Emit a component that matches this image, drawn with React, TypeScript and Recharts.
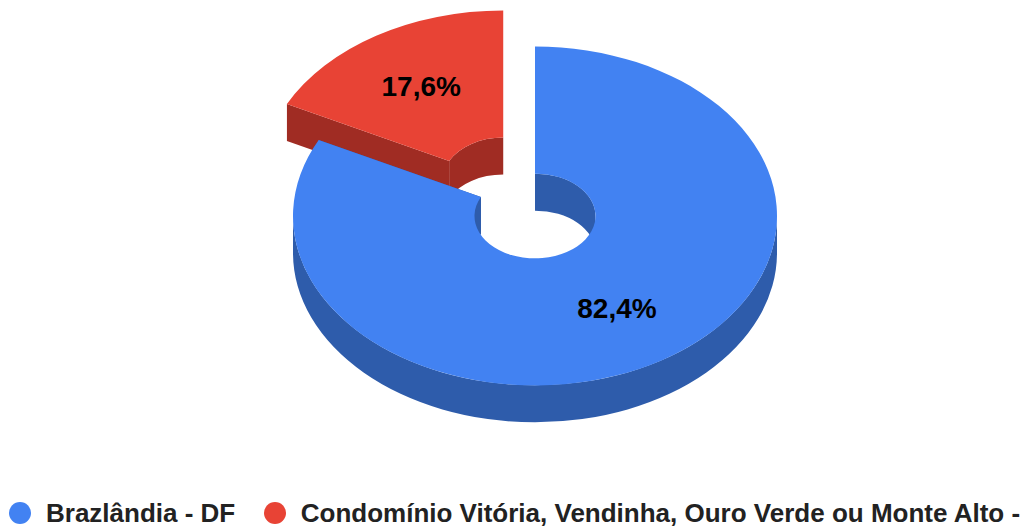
import { Legend, Pie, PieChart } from 'recharts';

const categories = ['Brazlândia - DF', 'Condomínio Vitória, Vendinha, Ouro Verde ou Monte Alto -'];
const values = [82.4, 17.6];
const topColors = ['#4282f2', '#e84335'];
const wallColors = ['#2e5cab', '#a02c23'];

// red is painted first so the blue slab overlaps it, same as the original
const pieData = [1, 0].map((i) => ({
    name: categories[i],
    value: values[i],
    fill: topColors[i],
    wall: wallColors[i],
}));

const WIDTH = 1028;
const HEIGHT = 526;
const SQUASH = 0.7;
const DEPTH = 37;
const EXPLODE = 0.25;
const LABEL_RADIUS = 0.645;
const explodedName = categories[1];

const total = values.reduce((a, b) => a + b, 0);
const startAngle = 90 + (360 * values[1]) / total;

const rad = (deg: number) => (deg * Math.PI) / 180;

function explodeOffset(name: string, midAngle: number, outerRadius: number) {
    if (name !== explodedName) return { dx: 0, dy: 0 };
    return {
        dx: Math.cos(rad(midAngle)) * outerRadius * EXPLODE,
        dy: -Math.sin(rad(midAngle)) * outerRadius * SQUASH * EXPLODE,
    };
}

// overlap of [from, to] (from > to) with a half turn, repeated around the circle
function visibleRanges(from: number, to: number, base: number) {
    const out: [number, number][] = [];
    for (let k = -2; k <= 2; k++) {
        const hi = Math.min(from, base + 180 + 360 * k);
        const lo = Math.max(to, base + 360 * k);
        if (hi > lo) out.push([hi, lo]);
    }
    return out;
}

function Slab(props: any) {
    const { cx, cy, innerRadius, outerRadius, startAngle: a1, endAngle: a2, fill, name, wall, payload } = props;
    const label = name ?? payload?.name;
    const wallFill = wall ?? payload?.wall;
    const { dx, dy } = explodeOffset(label, (a1 + a2) / 2, outerRadius);
    const ox = cx + dx;
    const oy = cy + dy;

    const pt = (r: number, a: number, down = 0) => ({
        x: ox + r * Math.cos(rad(a)),
        y: oy - r * SQUASH * Math.sin(rad(a)) + down,
    });
    const arc = (r: number, from: number, to: number, down = 0, cw = true) => {
        const p = pt(r, to, down);
        const large = Math.abs(from - to) > 180 ? 1 : 0;
        return `A ${r} ${r * SQUASH} 0 ${large} ${cw ? 1 : 0} ${p.x} ${p.y}`;
    };
    const move = (r: number, a: number, down = 0) => {
        const p = pt(r, a, down);
        return `${p.x} ${p.y}`;
    };
    const band = (r: number, hi: number, lo: number) =>
        `M ${move(r, hi)} ${arc(r, hi, lo)} L ${move(r, lo, DEPTH)} ${arc(r, lo, hi, DEPTH, false)} Z`;
    const cut = (a: number) =>
        `M ${move(outerRadius, a)} L ${move(innerRadius, a)} L ${move(innerRadius, a, DEPTH)} L ${move(outerRadius, a, DEPTH)} Z`;

    const top =
        `M ${move(outerRadius, a1)} ${arc(outerRadius, a1, a2)} ` +
        `L ${move(innerRadius, a2)} ${arc(innerRadius, a2, a1, 0, false)} Z`;

    return (
        <g>
            {visibleRanges(a1, a2, 0).map(([hi, lo]) => (
                <path key={`in${hi}`} d={band(innerRadius, hi, lo)} fill={wallFill} />
            ))}
            {visibleRanges(a1, a2, -180).map(([hi, lo]) => (
                <path key={`out${hi}`} d={band(outerRadius, hi, lo)} fill={wallFill} />
            ))}
            <path d={cut(a1)} fill={wallFill} />
            <path d={cut(a2)} fill={wallFill} />
            <path d={top} fill={fill} />
        </g>
    );
}

function renderLabel(props: any) {
    const { cx, cy, outerRadius, midAngle, percent, name } = props;
    const { dx, dy } = explodeOffset(name, midAngle, outerRadius);
    const x = cx + dx + Math.cos(rad(midAngle)) * outerRadius * LABEL_RADIUS;
    const y = cy + dy - Math.sin(rad(midAngle)) * outerRadius * SQUASH * LABEL_RADIUS;
    return (
        <text
            x={x}
            y={y}
            fill="#000000"
            fontFamily="'Liberation Sans', Arial, sans-serif"
            fontSize={28}
            fontWeight={700}
            textAnchor="middle"
            dominantBaseline="central"
        >
            {`${(percent * 100).toFixed(1).replace('.', ',')}%`}
        </text>
    );
}

export default function App() {
    return (
        <div style={{ position: 'absolute', left: 0, top: 0, width: WIDTH, height: HEIGHT, overflow: 'hidden' }}>
            <PieChart width={WIDTH} height={HEIGHT} margin={{ top: 0, right: 0, bottom: 0, left: 0 }}>
                <Pie
                    data={pieData}
                    dataKey="value"
                    nameKey="name"
                    cx={535}
                    cy={216}
                    innerRadius={60.5}
                    outerRadius={242}
                    startAngle={startAngle}
                    endAngle={startAngle - 360}
                    stroke="none"
                    shape={Slab}
                    label={renderLabel}
                    labelLine={false}
                    isAnimationActive={false}
                    rootTabIndex={-1}
                />
                <Legend
                    layout="horizontal"
                    align="left"
                    verticalAlign="bottom"
                    iconType="circle"
                    iconSize={22}
                    wrapperStyle={{ left: 9, top: 500, width: WIDTH - 9, height: 26, lineHeight: '24px', whiteSpace: 'nowrap' }}
                    formatter={(value: string) => (
                        <span
                            style={{
                                color: '#222222',
                                fontFamily: "'Liberation Sans', Arial, sans-serif",
                                fontSize: 26,
                                lineHeight: '24px',
                                fontWeight: 700,
                                marginLeft: 11,
                                marginRight: 18.5,
                                verticalAlign: 'middle',
                            }}
                        >
                            {value}
                        </span>
                    )}
                />
            </PieChart>
        </div>
    );
}
